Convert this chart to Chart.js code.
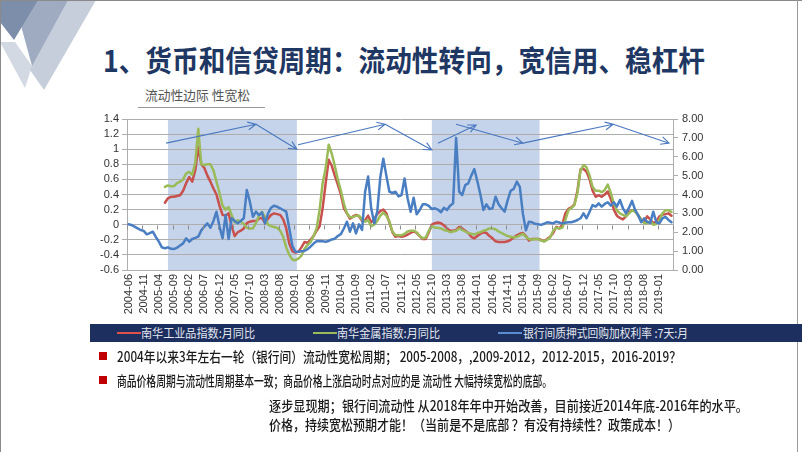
<!DOCTYPE html>
<html><head><meta charset="utf-8">
<script src="https://cdn.jsdelivr.net/npm/chart.js@4"></script>
<style>
html,body{margin:0;padding:0;background:#fff;}
#wrap{position:relative;width:802px;height:452px;overflow:hidden;font-family:"Noto Sans CJK SC","Noto Sans",sans-serif;}
#c{position:absolute;left:0;top:0;}
.t{position:absolute;white-space:nowrap;display:inline-block;transform-origin:0 50%;line-height:1;}
.title{left:103px;top:45px;font-size:29px;font-weight:700;color:#1F3763;}
.sub{left:145px;top:88px;font-size:13px;color:#555;}
.uline{position:absolute;left:138px;top:107px;width:127px;height:1px;background:#999;}
.band{position:absolute;left:90px;top:324px;width:712px;height:18px;background:#1D2F5E;}
.lg{position:absolute;top:332px;height:2px;width:24px;}
.lt{top:327px;font-size:12px;color:#E4E8F0;}
.bl{font-size:14px;color:#1a1a1a;font-weight:500;}
.sq{position:absolute;left:99px;width:8px;height:8px;background:#C00000;}
.frame-t{position:absolute;left:0;top:0;width:802px;height:1px;background:#8a8a8a;}
.frame-l{position:absolute;left:0;top:0;width:1px;height:452px;background:#8a8a8a;}
.frame-r{position:absolute;left:797px;top:0;width:1px;height:452px;background:#9a9a9a;}
</style></head>
<body><div id="wrap">
<svg style="position:absolute;left:0;top:0" width="110" height="100">
  <polygon points="0,42 15,42 32,66 25,88" fill="#D3D9E3"/>
  <polygon points="58,0 96,0 44,90 30,70" fill="#C6CEDB"/>
  <polygon points="14,0 68,0 32,66" fill="#9EABC1"/>
  <polygon points="0,0 38,0 14,40 0,22" fill="#7D8EAB"/>
</svg>
<div class="frame-t"></div><div class="frame-l"></div><div class="frame-r"></div>
<span class="t title" data-w="602">1、货币和信贷周期：流动性转向，宽信用、稳杠杆</span>
<span class="t sub" data-w="105">流动性边际 性宽松</span>
<div class="uline"></div>
<canvas id="c" width="802" height="452"></canvas>
<div class="band"></div>
<div class="lg" style="left:117px;background:#E0504D"></div>
<span class="t lt" style="left:141px" data-w="114">南华工业品指数:月同比</span>
<div class="lg" style="left:313px;background:#9BBB59"></div>
<span class="t lt" style="left:337px" data-w="103">南华金属指数:月同比</span>
<div class="lg" style="left:498px;background:#5B8CD0"></div>
<span class="t lt" style="left:523px" data-w="165">银行间质押式回购加权利率 :7天:月</span>
<div class="sq" style="top:352px"></div>
<span class="t bl" style="left:117px;top:349px" data-w="564">2004年以来3年左右一轮（银行间）流动性宽松周期； 2005-2008，,2009-2012，2012-2015，2016-2019？</span>
<div class="sq" style="top:376px"></div>
<span class="t bl" style="left:117px;top:373px" data-w="435">商品价格周期与流动性周期基本一致；商品价格上涨启动时点对应的是  流动性 大幅持续宽松的底部。</span>
<span class="t bl" style="left:269px;top:398px" data-w="479">逐步显现期；银行间流动性 从2018年年中开始改善，目前接近2014年底-2016年的水平。</span>
<span class="t bl" style="left:269px;top:417px" data-w="411">价格，持续宽松预期才能！（当前是不是底部  ？有没有持续性？政策成本！）</span>
</div>
<script>
// ---- categories (monthly, 2004-06 .. 2019-05) ----
const months = [];
for (let y = 2004, m = 6; months.length < 180; ) {
  months.push(y + '-' + String(m).padStart(2, '0'));
  m++; if (m > 12) { m = 1; y++; }
}
const tickLabels = ['2004-06','2004-11','2005-04','2005-09','2006-02','2006-07','2006-12','2007-05','2007-10','2008-03','2008-08','2009-01','2009-06','2009-11','2010-04','2010-09','2011-02','2011-07','2011-12','2012-05','2012-10','2013-03','2013-08','2014-01','2014-06','2014-11','2015-04','2015-09','2016-02','2016-07','2016-12','2017-05','2017-10','2018-03','2018-08','2019-01'];

// 南华工业品指数:月同比 (left axis)
const industrial = [null,null,null,null,null,null,null,null,null,null,null,null,
0.29,0.35,0.37,0.37,0.38,0.39,0.45,0.55,0.63,0.57,0.72,1.03,0.80,0.75,0.65,0.57,0.48,0.40,
0.25,0.13,0.12,0.15,-0.02,-0.15,-0.10,-0.08,-0.05,0.02,0.04,0.05,0.05,0.08,0.09,0.02,0.08,0.13,
0.15,0.14,0.13,0.07,-0.05,-0.25,-0.35,-0.37,-0.36,-0.30,-0.23,-0.24,-0.20,-0.15,-0.08,-0.02,
0.22,0.55,0.86,0.78,0.65,0.53,0.40,0.22,0.15,0.08,0.11,0.13,0.11,0.05,0.06,0.12,0.03,0.08,
0.14,0.18,0.20,0.15,0.03,-0.10,-0.16,-0.15,-0.16,-0.15,-0.13,-0.11,-0.09,-0.11,-0.15,-0.19,
-0.19,-0.10,0.00,0.02,0.03,0.02,-0.01,-0.05,-0.08,-0.08,-0.07,-0.03,-0.05,-0.08,-0.11,-0.16,
-0.18,-0.15,-0.12,-0.10,-0.11,-0.15,-0.18,-0.22,-0.23,-0.23,-0.23,-0.22,-0.20,-0.17,-0.14,
-0.12,-0.11,-0.15,-0.21,-0.19,-0.19,-0.19,-0.20,-0.22,-0.19,-0.16,-0.11,-0.03,-0.05,0.00,
0.15,0.21,0.23,0.27,0.45,0.73,0.74,0.70,0.60,0.45,0.37,0.39,0.37,0.40,0.44,0.34,0.20,0.12,
0.09,0.07,0.11,0.17,0.19,0.19,0.12,0.07,0.04,0.11,0.07,0.02,0.04,0.11,0.13,0.14,0.15,0.12];

// 南华金属指数:月同比 (left axis)
const metals = [null,null,null,null,null,null,null,null,null,null,null,null,
0.50,0.52,0.51,0.51,0.55,0.57,0.60,0.68,0.70,0.66,0.82,1.27,0.80,0.79,0.80,0.80,0.72,0.57,
0.42,0.25,0.20,0.23,0.13,0.03,0.06,0.04,0.01,-0.04,-0.05,-0.05,0.02,0.12,0.17,0.10,0.00,-0.02,
-0.03,-0.04,-0.08,-0.16,-0.30,-0.40,-0.46,-0.47,-0.45,-0.41,-0.32,-0.27,-0.23,-0.15,-0.05,0.20,
0.55,0.75,1.06,0.94,0.78,0.60,0.45,0.28,0.15,0.10,0.10,0.12,0.12,0.07,0.04,0.06,-0.02,0.00,
0.05,0.12,0.16,0.12,0.04,-0.09,-0.14,-0.14,-0.14,-0.12,-0.09,-0.08,-0.08,-0.10,-0.15,-0.18,
-0.17,-0.08,-0.02,-0.04,-0.04,-0.05,-0.07,-0.08,-0.10,-0.09,-0.08,-0.05,-0.07,-0.09,-0.11,-0.12,
-0.13,-0.11,-0.10,-0.08,-0.07,-0.05,-0.05,-0.06,-0.09,-0.11,-0.13,-0.15,-0.16,-0.17,-0.16,
-0.14,-0.12,-0.16,-0.19,-0.20,-0.19,-0.19,-0.21,-0.22,-0.20,-0.17,-0.08,-0.04,-0.05,-0.04,
0.06,0.19,0.22,0.26,0.42,0.72,0.79,0.76,0.65,0.50,0.45,0.45,0.43,0.46,0.53,0.42,0.28,0.19,
0.15,0.13,0.11,0.15,0.19,0.17,0.13,0.07,0.02,0.02,0.05,0.00,0.01,0.06,0.15,0.19,0.19,0.17];

// 银行间质押式回购加权利率:7天:月 (right axis, %)
const repo7d = [2.42,2.38,2.30,2.21,2.12,2.07,1.89,1.95,2.03,1.75,1.50,1.20,1.15,1.20,1.12,1.11,
1.18,1.30,1.41,1.68,1.50,1.64,1.70,1.77,2.10,2.30,2.47,2.24,2.60,3.09,2.30,1.68,2.91,1.64,2.74,
2.60,2.47,2.60,2.74,4.24,3.62,2.82,3.09,2.91,3.05,2.47,3.00,3.30,3.41,3.35,3.27,3.18,3.09,2.20,
1.30,0.97,0.97,0.99,1.01,1.10,1.24,1.40,1.52,1.54,1.52,1.50,1.54,1.62,1.66,1.80,1.90,2.20,2.56,
2.03,2.47,1.94,2.42,2.12,4.15,4.95,3.27,2.47,3.09,4.90,5.90,5.00,4.15,4.08,4.15,3.90,3.97,4.85,
3.80,3.09,3.83,2.95,3.18,3.48,3.48,3.40,3.23,3.27,3.20,3.06,3.30,3.18,3.40,3.53,7.00,4.15,3.97,
4.50,4.59,5.00,5.35,4.70,4.00,3.18,3.48,3.23,3.27,3.88,3.48,3.27,3.09,3.70,4.20,4.30,4.68,4.40,
3.00,2.10,2.56,2.53,2.45,2.42,2.39,2.45,2.53,2.50,2.47,2.56,2.52,2.47,2.50,2.53,2.53,2.58,2.65,
2.74,3.00,2.74,3.09,3.44,3.36,3.53,3.36,3.50,3.59,3.41,3.59,3.36,3.71,3.27,3.00,3.30,3.66,3.18,
2.91,2.53,2.74,2.55,2.50,3.09,2.53,2.47,2.74,2.82,2.65,2.53];

// shaded liquidity-easing periods
const bandStart = ['2005-07','2012-10'];
const bandEnd = ['2009-01','2015-09'];

// trend arrows (category index, left-axis value)
const arrowFromX = [12.4, 42, 55.9, 84.6, 102, 108, 130, 159.8];
const arrowFromY = [1.08, 1.33, 1.06, 1.33, 1.08, 1.33, 1.08, 1.33];
const arrowToX   = [42, 55.5, 84.6, 100, 114.6, 130, 159.8, 178.2];
const arrowToY   = [1.33, 1.00, 1.33, 0.99, 1.32, 1.08, 1.33, 1.08];

const bandsPlugin = {
  id: 'bands',
  beforeDraw(chart) {
    const {ctx, chartArea: a, scales: {x}} = chart;
    ctx.save();
    ctx.fillStyle = '#C5D4EA';
    bandStart.forEach((s, k) => {
      const x0 = x.getPixelForValue(months.indexOf(s));
      const x1 = x.getPixelForValue(months.indexOf(bandEnd[k]) + 0.5);
      ctx.fillRect(x0, a.top, x1 - x0, a.bottom - a.top);
    });
    ctx.restore();
  },
  afterDatasetsDraw(chart) {
    const {ctx, chartArea: a, scales: {x, y}} = chart;
    ctx.save();
    // category axis line crossing at 0 with tick marks
    const y0 = Math.round(y.getPixelForValue(0)) + 0.5;
    ctx.strokeStyle = '#8c8c8c'; ctx.lineWidth = 1;
    ctx.beginPath();
    for (let k = 0; k <= months.length; k += 5) {
      const xp = Math.round(x.getPixelForValue(k - 0.5)) + 0.5;
      ctx.moveTo(xp, y0); ctx.lineTo(xp, y0 + 4);
    }
    ctx.stroke();
    // arrows
    ctx.strokeStyle = '#4A78C0'; ctx.lineWidth = 1.1;
    arrowFromX.forEach((fx, k) => {
      const px0 = x.getPixelForValue(fx), py0 = y.getPixelForValue(arrowFromY[k]);
      const px1 = x.getPixelForValue(arrowToX[k]), py1 = y.getPixelForValue(arrowToY[k]);
      const ang = Math.atan2(py1 - py0, px1 - px0), L = 9, h = 0.45;
      ctx.beginPath();
      ctx.moveTo(px0, py0); ctx.lineTo(px1, py1);
      ctx.moveTo(px1 - L * Math.cos(ang - h), py1 - L * Math.sin(ang - h));
      ctx.lineTo(px1, py1);
      ctx.lineTo(px1 - L * Math.cos(ang + h), py1 - L * Math.sin(ang + h));
      ctx.stroke();
    });
    ctx.restore();
  }
};

const tickFont = {family: '"Liberation Sans", Arial, sans-serif', size: 11};
new Chart(document.getElementById('c'), {
  type: 'line',
  data: {
    labels: months,
    datasets: [
      {label: '南华工业品指数:月同比', data: industrial, borderColor: '#C8504D', borderWidth: 2.5, pointRadius: 0, yAxisID: 'y', order: 2},
      {label: '南华金属指数:月同比', data: metals, borderColor: '#9BBB59', borderWidth: 2.5, pointRadius: 0, yAxisID: 'y', order: 1},
      {label: '银行间质押式回购加权利率 :7天:月', data: repo7d, borderColor: '#4A7EC2', borderWidth: 2.5, pointRadius: 0, yAxisID: 'y1', order: 0}
    ]
  },
  options: {
    responsive: false, animation: false, devicePixelRatio: 1,
    layout: {padding: {left: 90, right: 79, top: 119, bottom: 130}},
    plugins: {legend: {display: false}, tooltip: {enabled: false}},
    elements: {line: {tension: 0, borderJoinStyle: 'round', borderCapStyle: 'round'}},
    scales: {
      x: {
        type: 'category', offset: true,
        grid: {display: false, drawTicks: false}, border: {display: false},
        ticks: {autoSkip: false, minRotation: 90, maxRotation: 90, padding: 4, color: '#333', font: tickFont,
          callback(v) { const l = this.getLabelForValue(v); return tickLabels.includes(l) ? l : ''; }},
        afterFit(s) { s.height = 52; }
      },
      y: {
        position: 'left', min: -0.6, max: 1.4,
        ticks: {stepSize: 0.2, autoSkip: false, color: '#333', font: tickFont, padding: 3,
          callback: v => String(Math.round(v * 10) / 10)},
        grid: {color: '#ADADAD', tickLength: 5},
        border: {color: '#ADADAD'},
        afterFit(s) { s.width = 37; }
      },
      y1: {
        position: 'right', min: 0, max: 8,
        ticks: {stepSize: 1, autoSkip: false, color: '#333', font: tickFont, padding: 4, callback: v => v.toFixed(2)},
        grid: {drawOnChartArea: false, color: '#ADADAD', tickLength: 5},
        border: {color: '#ADADAD'},
        afterFit(s) { s.width = 50; }
      }
    }
  },
  plugins: [bandsPlugin]
});

function fitText() {
  document.querySelectorAll('[data-w]').forEach(el => {
    el.style.transform = 'none';
    const w = el.getBoundingClientRect().width;
    el.style.transform = 'scaleX(' + (+el.dataset.w / w) + ')';
  });
}
fitText();
if (document.fonts && document.fonts.ready) document.fonts.ready.then(fitText);
</script>
</body></html>
